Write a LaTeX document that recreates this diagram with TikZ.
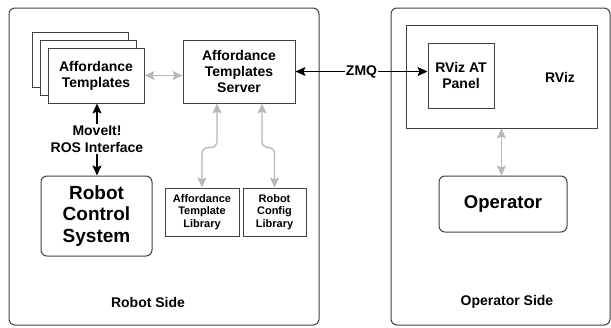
\documentclass[tikz,border=0pt]{standalone}
\usepackage{fontspec}
\setmainfont{Liberation Sans}
\usetikzlibrary{arrows.meta}

\begin{document}
\begin{tikzpicture}[x=1pt,y=-1pt,
	>={Stealth[length=10pt,width=9pt,inset=2pt]},
	box/.style={draw=black!75, line width=1pt, fill=white, align=center,
		font=\bfseries\fontsize{14}{16}\selectfont, inner sep=0pt},
	side/.style={box, rounded corners=6pt},
	lib/.style={box, font=\bfseries\fontsize{11}{12.7}\selectfont},
	lbl/.style={align=center, inner sep=1pt, font=\bfseries\fontsize{14}{17}\selectfont},
	blk/.style={line width=1.1pt, black, ->},
	gry/.style={line width=1.3pt, black!28, <->}]
	%\draw[help lines] (0,0) grid[step=10pt] (611,327);
	\useasboundingbox (0,0) rectangle (611,327);

	% the two sides
	\node[side, minimum width=310, minimum height=317] (robot) at (164,166.5) {};
	\node[side, minimum width=219, minimum height=317] (opside) at (500.5,166.5) {};
	\node[lbl] (robotlbl) at (148,302) {Robot Side};
	\node[lbl] (oplbl) at (507,302) {Operator Side};

	% robot side
	\node[box, minimum width=96, minimum height=55] (tplc) at (80,59.5) {};
	\node[box, minimum width=96, minimum height=55] (tplb) at (88,67.5) {};
	\node[box, minimum width=96, minimum height=55] (tpl) at (96,75.5) {Affordance\\Templates};
	\node[box, minimum width=112, minimum height=63] (server) at (239,71.5) {Affordance\\Templates\\Server};
	\node[lbl] (moveit) at (97,139) {MoveIt!\\ROS Interface};
	\node[box, rounded corners=6pt, minimum width=111, minimum height=80,
		font=\bfseries\fontsize{19}{21.5}\selectfont] (rcs) at (96.5,216) {Robot\\Control\\System};
	\node[lib, minimum width=74, minimum height=48] (atlib) at (202,212) {Affordance\\Template\\Library};
	\node[lib, minimum width=63, minimum height=48] (cfglib) at (274.5,212) {Robot\\Config\\Library};

	% operator side
	\node[box, minimum width=191, minimum height=103] (rviz) at (501.5,76.5) {};
	\node[lbl] (rvizlbl) at (560,77) {RViz};
	\node[box, minimum width=66, minimum height=65] (panel) at (461,75.5) {RViz AT\\Panel};
	\node[box, rounded corners=6pt, minimum width=128, minimum height=56,
		font=\bfseries\fontsize{18.5}{21}\selectfont] (operator) at (503,204) {Operator};

	% connections
	\draw[gry] (tpl.east) -- (tpl.east -| server.west);
	\draw[blk] (moveit.north) -- (moveit.north |- tpl.south);
	\draw[blk] (moveit.south) -- (moveit.south |- rcs.north);
	\draw[gry, rounded corners=6pt] ([xshift=-22pt]server.south) -- ++(0,44) -| (atlib.north);
	\draw[gry, rounded corners=6pt] ([xshift=23pt]server.south) -- ++(0,44) -| (cfglib.north);
	\draw[blk, <->]
		(server.east) -- node[lbl, fill=white] (zmq) {ZMQ} (server.east -| panel.west);
	\draw[gry] (rviz.south) -- (rviz.south |- operator.north);
\end{tikzpicture}
\end{document}
